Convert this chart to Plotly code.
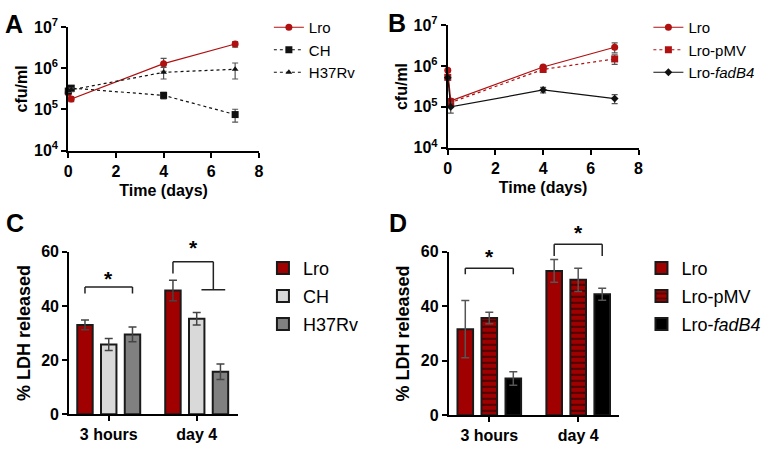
import plotly.graph_objects as go

# ---------------- data ----------------
days = [0, 0.125, 4, 7]
# Panel A
A_names = ["Lro", "CH", "H37Rv"]
A_lro = [2.5e5, 1.8e5, 1.3e6, 3.9e6]
A_lro_err = [3e4, 2.5e4, 4.5e5, 6e5]
A_ch = [2.8e5, 3.3e5, 2.2e5, 7.5e4]
A_ch_err = [3e4, 5e4, 4e4, 2.6e4]
A_h37 = [2.9e5, 3.0e5, 8.0e5, 9.5e5]
A_h37_err = [3e4, 3e4, 2.5e5, 4e5]
# Panel B
B_names = ["Lro", "Lro-pMV", "Lro-<i>fadB4</i>"]
B_lro = [7.9e5, 1.4e5, 9.5e5, 2.9e6]
B_lro_err = [6e4, 2e4, 1e5, 8e5]
B_pmv = [5.3e5, 1.28e5, 8.3e5, 1.5e6]
B_pmv_err = [8e4, 2e4, 1.3e5, 4e5]
B_fad = [5.2e5, 1.0e5, 2.6e5, 1.6e5]
B_fad_err = [5e4, 3e4, 4e4, 4e4]
# Panels C / D
groups = ["3 hours", "day 4"]
C_names = ["Lro", "CH", "H37Rv"]
C_vals = [[33.0, 45.7], [25.8, 35.3], [29.5, 15.7]]
C_errs = [[1.8, 3.8], [2.2, 2.3], [2.7, 2.9]]
D_names = ["Lro", "Lro-pMV", "Lro-<i>fadB4</i>"]
D_vals = [[31.6, 53.0], [35.7, 49.7], [13.5, 44.4]]
D_errs = [[10.5, 4.2], [2.1, 4.3], [2.5, 2.2]]

# ---------------- styling ----------------
W, H = 771, 451
RED_LINE = "#b01010"
RED_BAR = "#a00000"
FONT = "Liberation Sans, Arial, sans-serif"

def px2x(p):
    return p / W

def px2y(p):
    return 1 - p / H

domA = dict(x=[px2x(65), px2x(258)], y=[px2y(146), px2y(17)])
domB = dict(x=[px2x(449), px2x(642)], y=[px2y(143), px2y(15)])
domC = dict(x=[px2x(66), px2x(237)], y=[px2y(422), px2y(252)])
domD = dict(x=[px2x(450), px2x(622)], y=[px2y(423), px2y(252)])

fig = go.Figure()

def line_trace(x, y, err, name, color, dash, symbol, xa, ya, leg, msize=7):
    return go.Scatter(
        x=x, y=y, name=name, mode="lines+markers",
        line=dict(color=color, width=1.2, dash=dash),
        marker=dict(color=color, symbol=symbol, size=msize),
        error_y=dict(type="data", array=err, color="#555555", thickness=1.2, width=3),
        xaxis=xa, yaxis=ya, legend=leg, cliponaxis=False,
    )

fig.add_trace(line_trace(days, A_lro, A_lro_err, A_names[0], RED_LINE, "solid", "circle", "x", "y", "legend"))
fig.add_trace(line_trace(days, A_ch, A_ch_err, A_names[1], "#111111", "dot", "square", "x", "y", "legend"))
fig.add_trace(line_trace(days, A_h37, A_h37_err, A_names[2], "#111111", "dot", "triangle-up", "x", "y", "legend", 6))

fig.add_trace(line_trace(days, B_lro, B_lro_err, B_names[0], RED_LINE, "solid", "circle", "x2", "y2", "legend2"))
fig.add_trace(line_trace(days, B_pmv, B_pmv_err, B_names[1], RED_LINE, "dot", "square", "x2", "y2", "legend2"))
fig.add_trace(line_trace(days, B_fad, B_fad_err, B_names[2], "#111111", "solid", "diamond", "x2", "y2", "legend2", 6))

gpos = list(range(len(groups)))
C_styles = [dict(color=RED_BAR), dict(color="#d9d9d9"), dict(color="#808080")]
for i, (name, vals, errs, st) in enumerate(zip(C_names, C_vals, C_errs, C_styles)):
    fig.add_trace(go.Bar(
        x=gpos, y=vals, name=name, xaxis="x3", yaxis="y3", legend="legend3", legendgroup="c%d" % i,
        marker=dict(color=st["color"], line=dict(color="#1a1a1a", width=2)),
        error_y=dict(type="data", array=errs, color="#444444", thickness=1.5, width=4),
    ))

D_styles = [
    dict(color=RED_BAR),
    dict(color=RED_BAR, pattern=dict(shape="-", fgcolor="#000000", bgcolor=RED_BAR, size=6, solidity=0.35)),
    dict(color="#000000"),
]
for i, (name, vals, errs, st) in enumerate(zip(D_names, D_vals, D_errs, D_styles)):
    fig.add_trace(go.Bar(
        x=gpos, y=vals, name=name, xaxis="x4", yaxis="y4", legend="legend4", legendgroup="d%d" % i,
        marker=dict(line=dict(color="#1a1a1a", width=2), **st),
        error_y=dict(type="data", array=errs, color="#555555", thickness=1.5, width=4),
    ))

axis_common = dict(
    showline=True, linecolor="#000000", linewidth=2, ticks="outside", ticklen=5,
    tickwidth=2, tickcolor="#000000", showgrid=False, zeroline=False,
    tickfont=dict(family=FONT, size=16, color="#000000"),
    title_font=dict(family=FONT, size=16, color="#000000"),
)

logvals = [1e4, 1e5, 1e6, 1e7]
logtext = ["<b>10<sup>4</sup></b>", "<b>10<sup>5</sup></b>", "<b>10<sup>6</sup></b>", "<b>10<sup>7</sup></b>"]
daytick = [0, 2, 4, 6, 8]
daytext = ["<b>%d</b>" % v for v in daytick]

fig.update_layout(
    xaxis=dict(domain=domA["x"], range=[0, 8], anchor="y", tickvals=daytick, ticktext=daytext,
               title=dict(text="<b>Time (days)</b>", standoff=6), **axis_common),
    yaxis=dict(domain=domA["y"], type="log", range=[4, 7], anchor="x", tickvals=logvals, ticktext=logtext,
               title=dict(text="<b>cfu/ml</b>", standoff=2), **axis_common),
    xaxis2=dict(domain=domB["x"], range=[0, 8], anchor="y2", tickvals=daytick, ticktext=daytext,
                title=dict(text="<b>Time (days)</b>", standoff=6), **axis_common),
    yaxis2=dict(domain=domB["y"], type="log", range=[4, 7], anchor="x2", tickvals=logvals, ticktext=logtext,
                title=dict(text="<b>cfu/ml</b>", standoff=2), **axis_common),
    xaxis3=dict(domain=domC["x"], range=[-0.449, 1.472], anchor="y3", tickvals=gpos,
                ticktext=["<b>%s</b>" % g for g in groups], **axis_common),
    yaxis3=dict(domain=domC["y"], range=[0, 60], anchor="x3", tickvals=[0, 20, 40, 60],
                ticktext=["<b>%d</b>" % v for v in [0, 20, 40, 60]],
                title=dict(text="<b>% LDH released</b>", standoff=6), **axis_common),
    xaxis4=dict(domain=domD["x"], range=[-0.456, 1.456], anchor="y4", tickvals=gpos,
                ticktext=["<b>%s</b>" % g for g in groups], **axis_common),
    yaxis4=dict(domain=domD["y"], range=[0, 60], anchor="x4", tickvals=[0, 20, 40, 60],
                ticktext=["<b>%d</b>" % v for v in [0, 20, 40, 60]],
                title=dict(text="<b>% LDH released</b>", standoff=6), **axis_common),
)
fig.layout.yaxis3.title.font.size = 18
fig.layout.yaxis4.title.font.size = 18

leg_common = dict(xanchor="left", yanchor="top", bgcolor="rgba(0,0,0,0)", borderwidth=0)
fig.update_layout(
    legend=dict(x=px2x(268), y=1.0, font=dict(family=FONT, size=15, color="#000"), **leg_common),
    legend2=dict(x=px2x(652), y=1.0, font=dict(family=FONT, size=15, color="#000"), **leg_common),
    legend3=dict(x=px2x(262), y=px2y(250), tracegroupgap=1.5,
                 font=dict(family=FONT, size=18, color="#000"), **leg_common),
    legend4=dict(x=px2x(645), y=px2y(250), tracegroupgap=1.5,
                 font=dict(family=FONT, size=18, color="#000"), **leg_common),
)

BARGAP = 0.19
slot = (1 - BARGAP) / 3
fig.update_layout(barmode="group", bargap=BARGAP, bargroupgap=0.35)

# ---- significance brackets (y given in data units, converted to paper) ----
def yp(dom, v, rng=(0, 60)):
    return dom["y"][0] + (v - rng[0]) / (rng[1] - rng[0]) * (dom["y"][1] - dom["y"][0])

def seg(xref, dom, x0, y0, x1, y1):
    fig.add_shape(type="line", xref=xref, yref="paper", x0=x0, x1=x1,
                  y0=yp(dom, y0), y1=yp(dom, y1), line=dict(color="#222222", width=1.5))

def star(xref, dom, x, y):
    fig.add_annotation(xref=xref, yref="paper", x=x, y=yp(dom, y), text="<b>*</b>",
                       showarrow=False, yanchor="bottom", font=dict(family=FONT, size=21, color="#000"))

# C, 3 hours: Lro vs H37Rv
seg("x3", domC, -slot, 47, slot, 47)
seg("x3", domC, -slot, 47, -slot, 44.6)
seg("x3", domC, slot, 47, slot, 44.6)
star("x3", domC, 0, 45.2)
# C, day 4: Lro vs (CH, H37Rv)
seg("x3", domC, 1 - slot, 56.3, 1 + 0.7 * slot, 56.3)
seg("x3", domC, 1 - slot, 56.3, 1 - slot, 52)
seg("x3", domC, 1 + 0.7 * slot, 56.3, 1 + 0.7 * slot, 46)
seg("x3", domC, 1 + 0.2 * slot, 46, 1 + 1.2 * slot, 46)
star("x3", domC, 1 - 0.15 * slot, 56.6)
# D, 3 hours: Lro vs Lro-fadB4
seg("x4", domD, -slot, 54, slot, 54)
seg("x4", domD, -slot, 54, -slot, 51.8)
seg("x4", domD, slot, 54, slot, 51.8)
star("x4", domD, 0, 53.2)
# D, day 4
seg("x4", domD, 1 - slot, 62.8, 1 + slot, 62.8)
seg("x4", domD, 1 - slot, 62.8, 1 - slot, 58.5)
seg("x4", domD, 1 + slot, 62.8, 1 + slot, 58.5)
star("x4", domD, 1, 62.2)

# panel letters
for letter, x, y in [("A", 10, 14), ("B", 398, 13), ("C", 11, 222), ("D", 399, 222)]:
    fig.add_annotation(xref="paper", yref="paper", x=px2x(x), y=px2y(y), text="<b>%s</b>" % letter,
                       showarrow=False, xanchor="center", yanchor="middle",
                       font=dict(family=FONT, size=25, color="#000"))

fig.update_layout(
    width=W, height=H, autosize=False, margin=dict(l=0, r=0, t=0, b=0),
    paper_bgcolor="white", plot_bgcolor="white", font=dict(family=FONT, color="#000"),
)

fig.write_html("out.html", config={"displayModeBar": False},
               post_script="document.body.style.margin='0';document.body.style.overflow='hidden';")
